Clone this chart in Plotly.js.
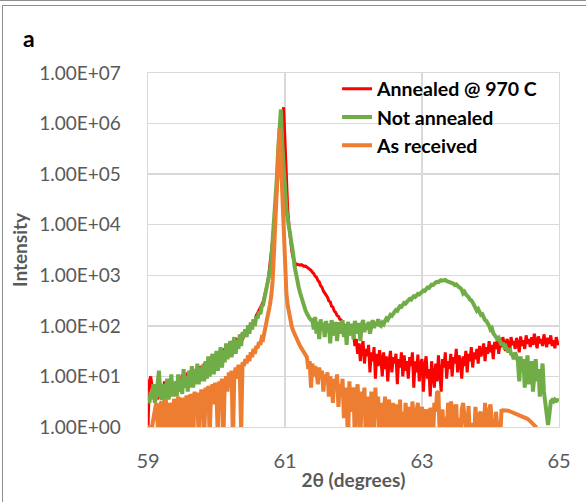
<!DOCTYPE html>
<html><head><meta charset="utf-8">
<script src="https://cdn.plot.ly/plotly-3.0.1.min.js"></script>
<style>
html,body{margin:0;padding:0;background:#fff;}
#wrap{position:relative;width:586px;height:502px;overflow:hidden;}
#chart{position:absolute;left:0;top:0;width:586px;height:502px;}
.fr{position:absolute;background:#8f8f8f;pointer-events:none;}
</style></head><body>
<div id="wrap"><div id="chart"></div>
<div class="fr" style="left:0;top:0;width:586px;height:1px"></div>
<div class="fr" style="left:2px;top:5px;width:584px;height:1px"></div>
<div class="fr" style="left:2px;top:5px;width:1px;height:497px"></div>
</div>
<script>
// 2θ scan: start angle and step (degrees)
const scanStart = 59;
const scanStep = 0.02;

const seriesNames = ['Annealed @ 970 C', 'Not annealed', 'As received'];

const annealed = [
1,8,10,6,4,7,5,3.5,9,6,
5,4,8,6,4.5,7,5,6,8,5,
6,8,5,9,7,11,6,10,8,12,
9,13,8,14,10,12,15,9,16,11,
13,18,12,20,15,24,14,21,17,26,
20,30,22,27,34,25,36,28,42,30,
38,50,35,46,58,42,55,48,68,52,
64,85,70,100,82,115,95,125,110,160,
180,200,230,260,300,380,450,650,950,1600,
2600,5000,10000,20000,40000,100000,250000,600000,1300000,2100000,
400000,60000,20000,9000,5000,3000,2200,1800,1600,1650,
1600,1580,1620,1550,1500,1520,1450,1400,1300,1250,
1150,1080,960,920,790,740,620,580,490,450,
400,370,310,300,245,235,195,185,160,155,
135,130,112,105,98,92,80,78,72,68,
70,40,55,28,45,20,38,50,18,35,
25,42,12,30,20,38,9,28,16,33,
22,10,30,14,25,8,20,32,12,24,
18,28,7,22,15,30,10,26,13,20,
9,24,16,30,6,20,12,27,8,18,
22,5,16,25,9,14,4,20,11,6,
18,8,26,12,5,22,15,30,9,20,
14,28,10,24,18,35,12,26,20,9,
25,16,32,12,28,20,38,15,30,22,
35,18,40,25,30,45,20,38,28,50,
30,42,22,48,35,55,28,45,38,60,
40,32,55,45,30,60,42,50,35,58,
45,30,62,40,52,35,65,44,55,38,
60,42,70,48,36,62,45,55,40,68,
50,38,58,44,65,40,52,36,60,46,42
];

const notAnnealed = [
3.5,3,5,3.5,7,3,4,9,13,4,
3.5,7,3,5,9,3.5,5,11,4,6,
8,4,11,5,9,4.5,14,6,10,5,
13,6,16,6,14,7,18,7,15,8,
17,8,20,9,25,10,19,28,11,22,
32,13,26,38,15,33,19,45,22,36,
50,24,42,60,28,52,35,68,40,75,
62,85,60,100,70,115,85,135,100,155,
140,190,170,240,260,350,420,600,800,1200,
2000,4500,10000,25000,80000,300000,1100000,1900000,400000,120000,
40000,20000,13000,9000,6000,4000,2600,1500,1000,750,
580,450,360,290,240,200,175,150,140,130,
130,85,150,70,120,55,135,80,115,60,
125,75,110,45,130,80,65,120,50,105,
115,70,130,60,105,42,120,75,65,110,
55,125,80,70,115,50,105,130,75,110,
85,120,70,105,130,90,120,100,135,105,
100,115,108,125,140,132,150,165,158,180,
190,205,198,225,245,238,260,285,275,305,
320,340,330,360,385,372,405,430,420,455,
470,500,490,540,570,560,610,650,640,690,
720,745,735,770,800,780,790,810,770,760,
720,740,700,680,640,660,600,580,560,520,
440,470,420,400,370,330,320,290,260,240,
200,215,180,165,170,140,130,125,105,100,
85,90,72,65,60,55,58,48,42,46,
38,40,33,30,36,28,27,22,30,24,
20,8,25,12,22,6,18,26,7,15,
20,5,16,22,8,14,4,12,18,5,
3,2,1.1,1.8,3.2,3.4,3.2,3.5,3.3,3.4,3.3
];

const asReceived = [
1,1,1,1,1.5,2.5,3,1.2,0.5,2.8,
3.2,0.5,2.5,3.5,1,0.5,3,2.2,0.5,3.6,
2.5,0.5,4,3,0.6,3.8,2,0.5,4.2,3,
0.5,4.5,3.2,0.5,5,2.5,4.8,0.5,3.5,5.5,
4,0.5,6,3.5,6.5,0.6,5,7,2.8,7.5,
5,0.5,8,6,9,0.5,7,10,5,12,
8,13,0.5,11,15,9,17,12,0.8,19,
16,22,18,26,20,30,24,35,28,40,
36,48,42,58,55,75,90,120,170,260,
400,800,3000,15000,80000,350000,800000,200000,40000,6000,
1200,450,250,170,120,95,80,68,58,52,
46,40,36,33,30,28,24,14,20,6,
18,10,16,12,7,15,9,13,5,11,
8,12,4,10,7,3,9,6,11,2.5,
7,4,9,1.5,6,3,0.5,8,2,5,
6,0.5,4,7,2,0.5,5,3,6,0.5,
4,2,0.5,5,3,0.5,6,1.5,4,0.5,
3,0.5,2.5,4,0.5,2,3.5,0.5,1.5,3,
0.5,2.8,1.2,0.5,3.5,0.5,2,0.5,3,1,
0.5,2.5,0.5,3.2,1.5,0.5,2,3,0.5,1.8,
2.5,0.5,1.8,2.2,1.6,0.5,2.4,1.8,0.5,3,
2,4.8,5,0.5,1.8,2.2,0.5,1.6,0.5,3,
0.5,3.2,2.5,0.5,1.8,2.8,0.5,1.5,0.5,2.2,
3,1.4,0.5,0.5,2.6,0.5,1.2,0.5,0.5,2.5,
0.5,0.5,1.8,2,0.5,0.5,3,0.5,0.5,2.2,
2.8,1.2,0.5,0.5,2,0.5,0.5,0.5,2.1,2.15,
2.15,2.15,2.1,2.1,2.05,2.0,2.0,1.95,1.9,1.85,
1.8,1.75,1.72,1.68,1.62,1.58,1.52,1.45,1.38,1.3,
1.22,1.15,1.08,1.02,0.5,0.5,0.5,0.5,0.5,0.5,
0.5,0.5,0.5,0.5,0.5,0.5,0.5,0.5,0.5,0.5,0.5
];

const xTickVals = [59, 61, 63, 65];
const yTickVals = [1, 10, 100, 1000, 10000, 100000, 1000000, 10000000];
const yTickText = ['1.00E+00','1.00E+01','1.00E+02','1.00E+03','1.00E+04','1.00E+05','1.00E+06','1.00E+07'];

const colors = ['#ff0000', '#70ad47', '#ed7d31'];
const widths = [3, 4, 4];
const ys = [annealed, notAnnealed, asReceived];

const traces = ys.map((y, k) => ({
  type: 'scatter', mode: 'lines',
  name: '<b>' + seriesNames[k] + '</b>',
  x0: scanStart, dx: scanStep, y: y,
  line: {color: colors[k], width: widths[k]},
  hoverinfo: 'skip'
}));

const gridC = '#d9d9d9';
const layout = {
  width: 586, height: 502,
  margin: {l: 148, r: 27, t: 73, b: 75, pad: 0},
  paper_bgcolor: '#ffffff', plot_bgcolor: '#ffffff',
  font: {family: 'Lato, "Open Sans", sans-serif', color: '#595959'},
  showlegend: true,
  xaxis: {
    range: [59, 65], tickvals: xTickVals,
    showgrid: true, gridcolor: gridC, gridwidth: 1.3,
    zeroline: false, showline: true, mirror: true, linecolor: gridC, linewidth: 1.3,
    layer: 'below traces',
    ticks: 'outside', ticklen: 16, tickcolor: 'rgba(0,0,0,0)',
    tickfont: {size: 20, color: '#595959'},
    title: {text: '<b>2θ (degrees)</b>', font: {size: 19, color: '#595959'}, standoff: 2}
  },
  yaxis: {
    type: 'log', range: [0, 7], tickvals: yTickVals, ticktext: yTickText,
    showgrid: true, gridcolor: gridC, gridwidth: 1.3,
    zeroline: false, showline: true, mirror: true, linecolor: gridC, linewidth: 1.3,
    layer: 'below traces',
    ticks: 'outside', ticklen: 22, tickcolor: 'rgba(0,0,0,0)',
    tickfont: {size: 19, color: '#595959'},
    title: {text: '<b>Intensity</b>', font: {size: 19, color: '#595959'}, standoff: 6}
  },
  legend: {
    x: 0.46, y: 1.01, xanchor: 'left', yanchor: 'top',
    bgcolor: 'rgba(0,0,0,0)', borderwidth: 0,
    font: {size: 19.5, color: '#000000'}
  },
  annotations: [{
    text: '<b>a</b>', xref: 'paper', yref: 'paper', x: -0.31, y: 1.143,
    xanchor: 'left', yanchor: 'top', showarrow: false,
    font: {size: 23, color: '#000000'}
  }]
};

Plotly.newPlot('chart', traces, layout, {staticPlot: true, displayModeBar: false});
</script>
</body></html>
